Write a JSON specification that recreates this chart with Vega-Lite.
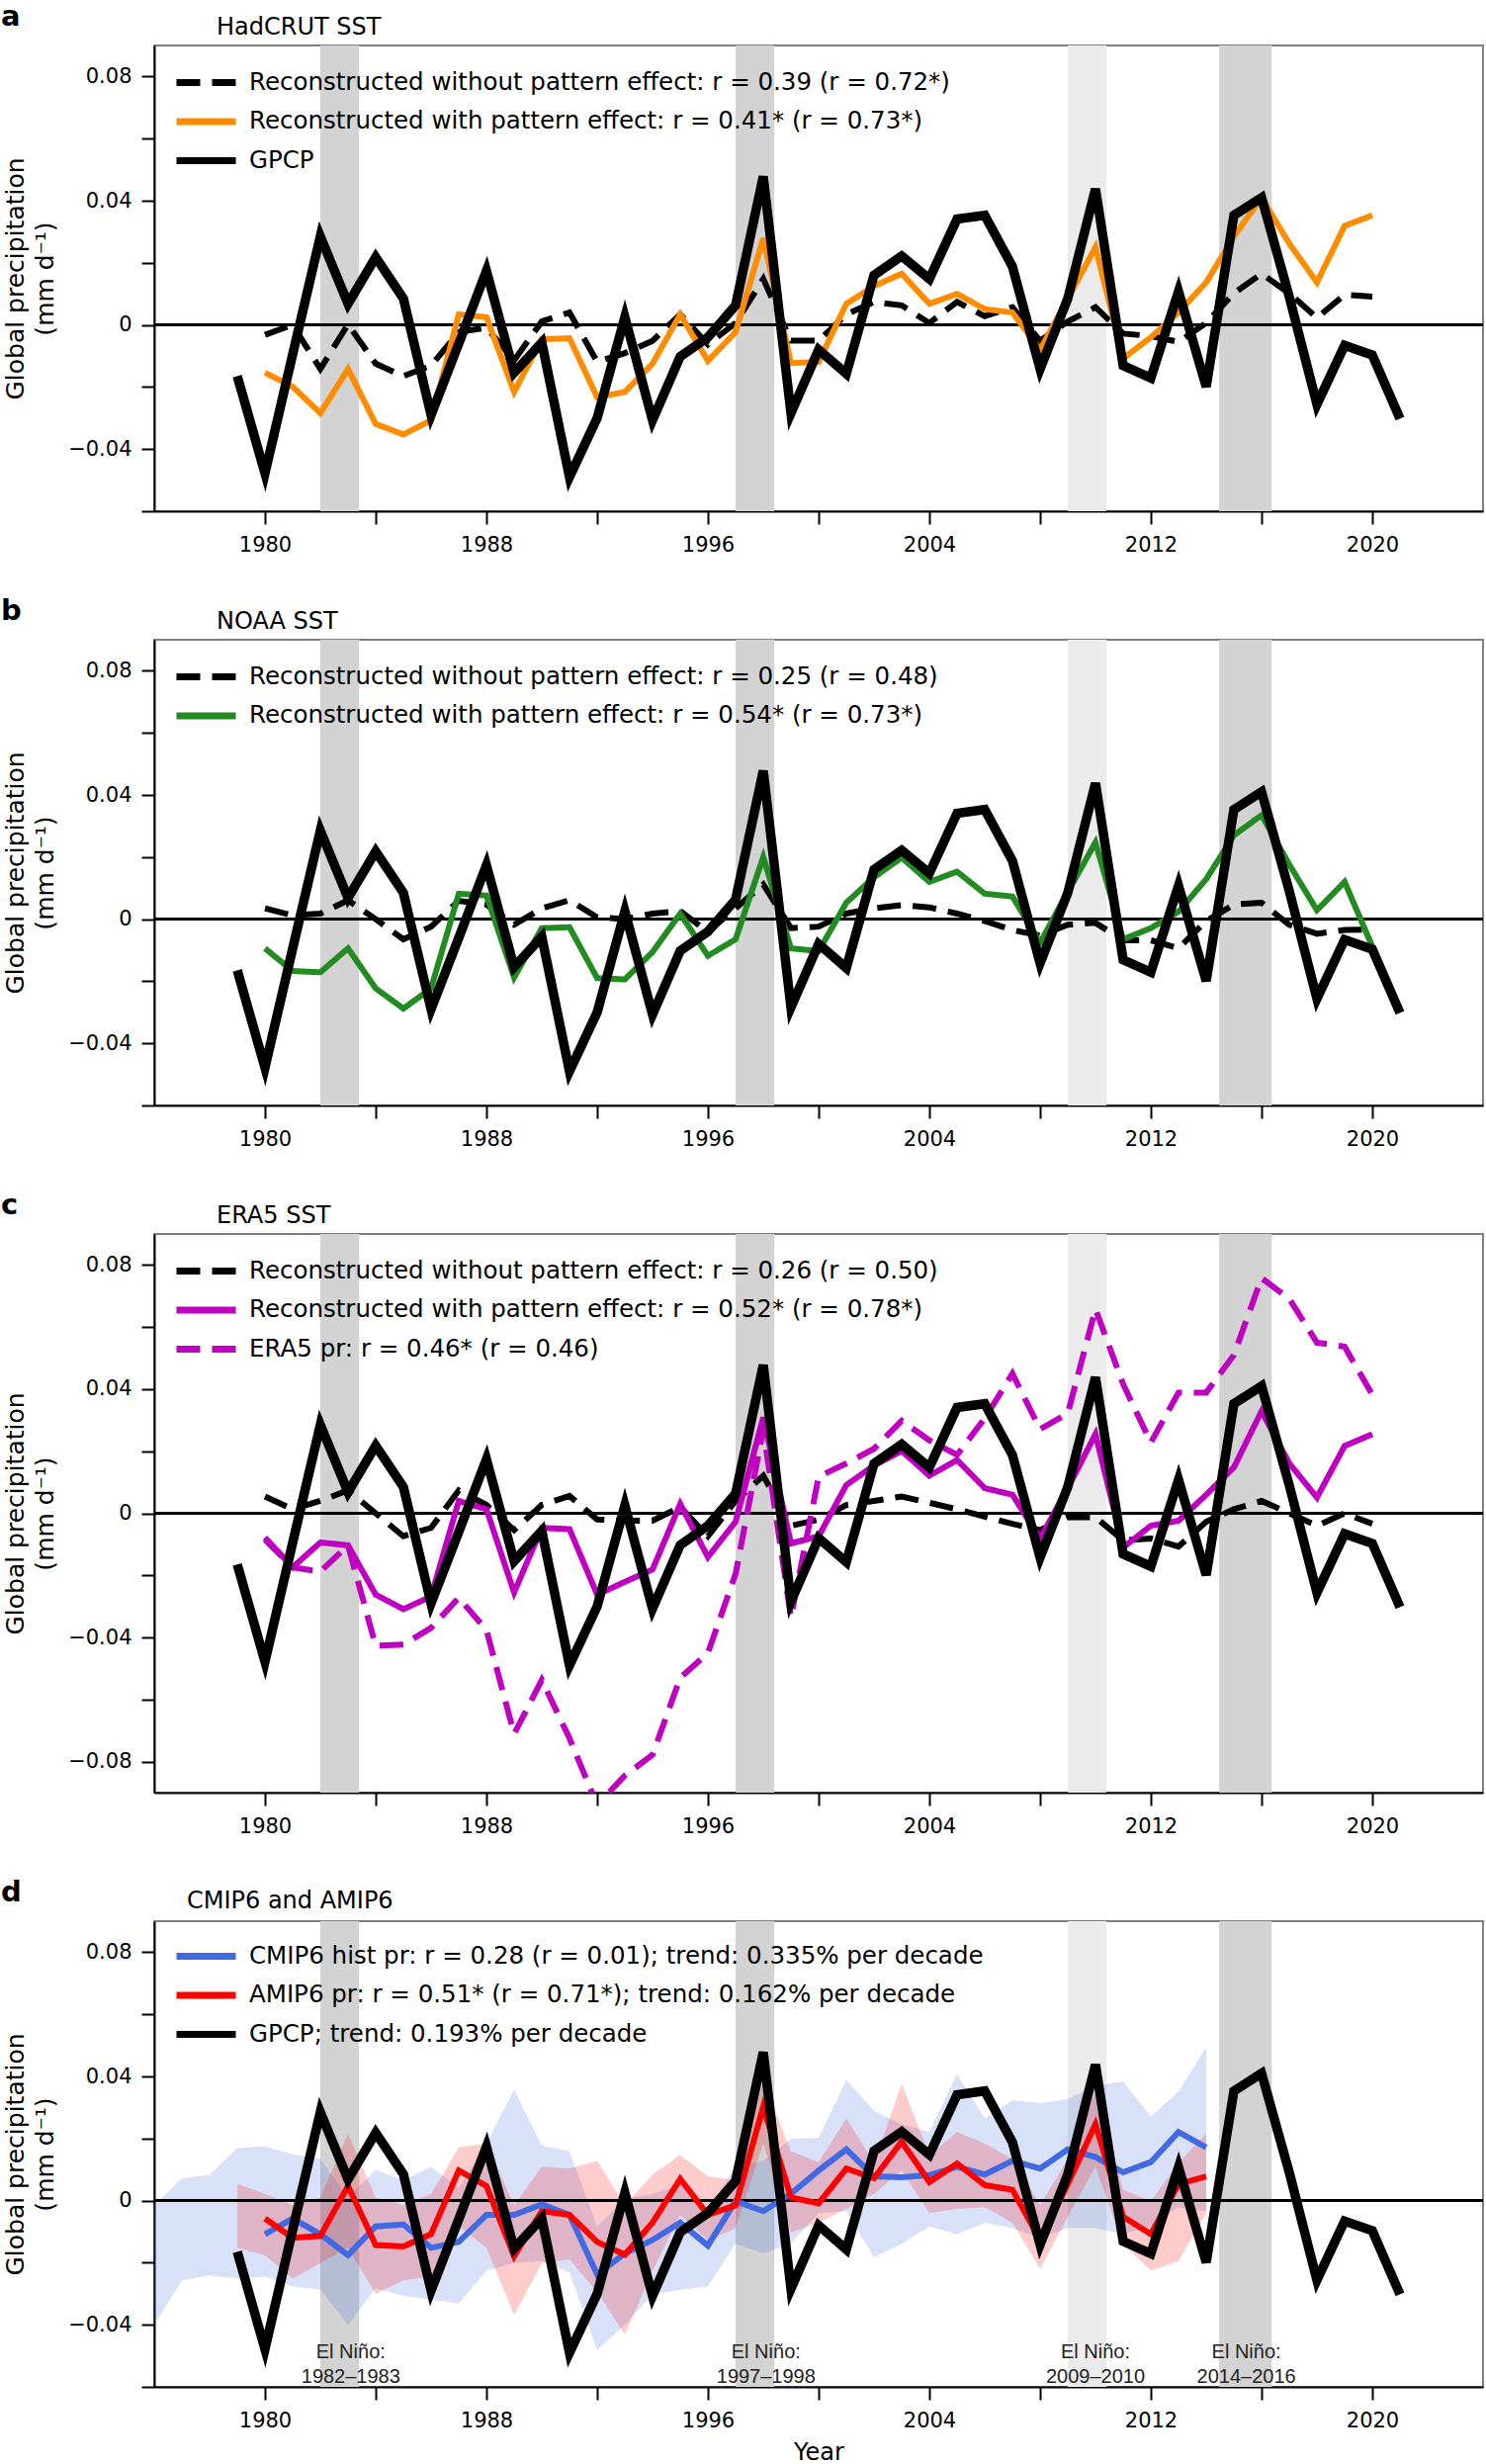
{
  "$schema": "https://vega.github.io/schema/vega-lite/v6.json",
  "padding": {"left": 0, "top": 2, "right": 0, "bottom": 0},
  "background": "white",
  "bounds": "flush",
  "spacing": 130,
  "config": {
    "view": {"stroke": "#7f7f7f", "strokeWidth": 2},
    "axis": {"domainColor": "black", "domainWidth": 2, "tickColor": "black", "tickWidth": 2, "tickSize": 13, "labelFont": "DejaVu Sans", "labelFontSize": 21, "labelColor": "black", "labelPadding": 10, "titleFont": "DejaVu Sans", "titleFontSize": 25, "titleFontWeight": "normal", "titleColor": "black", "grid": false, "labelOverlap": false},
    "legend": {"labelFont": "DejaVu Sans", "labelFontSize": 24.5, "labelColor": "black", "labelLimit": 1300, "symbolSize": 400, "labelOffset": 30, "rowPadding": 10.5, "padding": 0}
  },
  "resolve": {
    "scale": {"x": "independent", "y": "independent", "color": "independent", "strokeDash": "independent", "fill": "independent"},
    "legend": {"color": "independent", "strokeDash": "independent", "fill": "independent"}
  },
  "datasets": {
    "bands": [
      {"start": 1982.0, "end": 1983.4, "kind": "major"},
      {"start": 1997.0, "end": 1998.4, "kind": "major"},
      {"start": 2009.0, "end": 2010.4, "kind": "minor"},
      {"start": 2014.47, "end": 2016.37, "kind": "major"}
    ],
    "gpcp": [
      {"year": 1979, "value": -0.0165}, {"year": 1980, "value": -0.0478}, {"year": 1981, "value": -0.0095}, {"year": 1982, "value": 0.0285},
      {"year": 1983, "value": 0.0068}, {"year": 1984, "value": 0.0218}, {"year": 1985, "value": 0.0085}, {"year": 1986, "value": -0.029},
      {"year": 1987, "value": -0.006}, {"year": 1988, "value": 0.0174}, {"year": 1989, "value": -0.0154}, {"year": 1990, "value": -0.0057},
      {"year": 1991, "value": -0.049}, {"year": 1992, "value": -0.030}, {"year": 1993, "value": 0.0025}, {"year": 1994, "value": -0.0307},
      {"year": 1995, "value": -0.0102}, {"year": 1996, "value": -0.004}, {"year": 1997, "value": 0.0063}, {"year": 1998, "value": 0.0478},
      {"year": 1999, "value": -0.0284}, {"year": 2000, "value": -0.008}, {"year": 2001, "value": -0.0157}, {"year": 2002, "value": 0.016},
      {"year": 2003, "value": 0.0222}, {"year": 2004, "value": 0.0148}, {"year": 2005, "value": 0.0341}, {"year": 2006, "value": 0.0353},
      {"year": 2007, "value": 0.0188}, {"year": 2008, "value": -0.0142}, {"year": 2009, "value": 0.0085}, {"year": 2010, "value": 0.0438},
      {"year": 2011, "value": -0.0131}, {"year": 2012, "value": -0.0171}, {"year": 2013, "value": 0.0108}, {"year": 2014, "value": -0.0199},
      {"year": 2015, "value": 0.0353}, {"year": 2016, "value": 0.041}, {"year": 2017, "value": 0.0091}, {"year": 2018, "value": -0.0256},
      {"year": 2019, "value": -0.0066}, {"year": 2020, "value": -0.0097}, {"year": 2021, "value": -0.0302}
    ],
    "recA": [
      {"year": 1980, "wo": -0.0032, "w": -0.0154}, {"year": 1981, "wo": 0.0, "w": -0.0199}, {"year": 1982, "wo": -0.0142, "w": -0.0284},
      {"year": 1983, "wo": 0.0002, "w": -0.0142}, {"year": 1984, "wo": -0.0125, "w": -0.0319}, {"year": 1985, "wo": -0.0165, "w": -0.0353},
      {"year": 1986, "wo": -0.0131, "w": -0.0307}, {"year": 1987, "wo": -0.0023, "w": 0.0034}, {"year": 1988, "wo": -0.0009, "w": 0.0025},
      {"year": 1989, "wo": -0.0114, "w": -0.0216}, {"year": 1990, "wo": 0.0011, "w": -0.0046}, {"year": 1991, "wo": 0.004, "w": -0.0043},
      {"year": 1992, "wo": -0.0119, "w": -0.0233}, {"year": 1993, "wo": -0.0091, "w": -0.0216}, {"year": 1994, "wo": -0.0051, "w": -0.0125},
      {"year": 1995, "wo": 0.0034, "w": 0.0034}, {"year": 1996, "wo": -0.0063, "w": -0.0116}, {"year": 1997, "wo": 0.0006, "w": -0.0023},
      {"year": 1998, "wo": 0.0148, "w": 0.0279}, {"year": 1999, "wo": -0.0051, "w": -0.0123}, {"year": 2000, "wo": -0.0051, "w": -0.0119},
      {"year": 2001, "wo": 0.0034, "w": 0.0068}, {"year": 2002, "wo": 0.0074, "w": 0.0125}, {"year": 2003, "wo": 0.0063, "w": 0.0165},
      {"year": 2004, "wo": 0.0006, "w": 0.0068}, {"year": 2005, "wo": 0.0074, "w": 0.01}, {"year": 2006, "wo": 0.0028, "w": 0.0051},
      {"year": 2007, "wo": 0.0057, "w": 0.004}, {"year": 2008, "wo": -0.0051, "w": -0.008}, {"year": 2009, "wo": 0.0011, "w": 0.0085},
      {"year": 2010, "wo": 0.0057, "w": 0.025}, {"year": 2011, "wo": -0.0028, "w": -0.0108}, {"year": 2012, "wo": -0.0036, "w": -0.004},
      {"year": 2013, "wo": -0.0055, "w": 0.004}, {"year": 2014, "wo": 0.0006, "w": 0.0137}, {"year": 2015, "wo": 0.0102, "w": 0.0285},
      {"year": 2016, "wo": 0.0165, "w": 0.041}, {"year": 2017, "wo": 0.0102, "w": 0.0262}, {"year": 2018, "wo": 0.0023, "w": 0.0137},
      {"year": 2019, "wo": 0.0097, "w": 0.0319}, {"year": 2020, "wo": 0.0091, "w": 0.0353}
    ],
    "recB": [
      {"year": 1980, "wo": 0.0035, "w": -0.0094}, {"year": 1981, "wo": 0.0012, "w": -0.0167}, {"year": 1982, "wo": 0.0018, "w": -0.0171},
      {"year": 1983, "wo": 0.0061, "w": -0.0094}, {"year": 1984, "wo": 0.0, "w": -0.0223}, {"year": 1985, "wo": -0.0065, "w": -0.0288},
      {"year": 1986, "wo": -0.0024, "w": -0.0223}, {"year": 1987, "wo": 0.0059, "w": 0.0082}, {"year": 1988, "wo": 0.0047, "w": 0.0076},
      {"year": 1989, "wo": -0.0018, "w": -0.0188}, {"year": 1990, "wo": 0.0035, "w": -0.0029}, {"year": 1991, "wo": 0.0061, "w": -0.0026},
      {"year": 1992, "wo": 0.0006, "w": -0.019}, {"year": 1993, "wo": 0.0, "w": -0.0194}, {"year": 1994, "wo": 0.0018, "w": -0.0106},
      {"year": 1995, "wo": 0.0026, "w": 0.0018}, {"year": 1996, "wo": -0.0041, "w": -0.0118}, {"year": 1997, "wo": 0.0035, "w": -0.0065},
      {"year": 1998, "wo": 0.0112, "w": 0.02}, {"year": 1999, "wo": -0.0029, "w": -0.0094}, {"year": 2000, "wo": -0.0024, "w": -0.0103},
      {"year": 2001, "wo": 0.0018, "w": 0.0053}, {"year": 2002, "wo": 0.0035, "w": 0.0135}, {"year": 2003, "wo": 0.0045, "w": 0.0198},
      {"year": 2004, "wo": 0.0038, "w": 0.012}, {"year": 2005, "wo": 0.0018, "w": 0.0153}, {"year": 2006, "wo": -0.0006, "w": 0.0082},
      {"year": 2007, "wo": -0.0035, "w": 0.0073}, {"year": 2008, "wo": -0.0053, "w": -0.0076}, {"year": 2009, "wo": -0.0018, "w": 0.0088},
      {"year": 2010, "wo": -0.0012, "w": 0.0247}, {"year": 2011, "wo": -0.0068, "w": -0.0065}, {"year": 2012, "wo": -0.0068, "w": -0.0029},
      {"year": 2013, "wo": -0.0094, "w": 0.0024}, {"year": 2014, "wo": -0.0006, "w": 0.0129}, {"year": 2015, "wo": 0.0047, "w": 0.027},
      {"year": 2016, "wo": 0.0053, "w": 0.0335}, {"year": 2017, "wo": -0.0018, "w": 0.0176}, {"year": 2018, "wo": -0.0047, "w": 0.0029},
      {"year": 2019, "wo": -0.0035, "w": 0.012}, {"year": 2020, "wo": -0.0033, "w": -0.0088}
    ],
    "recC": [
      {"year": 1980, "wo": 0.0054, "w": -0.0078, "era5": -0.0085}, {"year": 1981, "wo": 0.0013, "w": -0.0174, "era5": -0.0174},
      {"year": 1982, "wo": 0.004, "w": -0.0094, "era5": -0.0188}, {"year": 1983, "wo": 0.0074, "w": -0.0103, "era5": -0.0103},
      {"year": 1984, "wo": 0.0, "w": -0.0262, "era5": -0.0427}, {"year": 1985, "wo": -0.0074, "w": -0.0309, "era5": -0.0423},
      {"year": 1986, "wo": -0.0047, "w": -0.0268, "era5": -0.0369}, {"year": 1987, "wo": 0.0074, "w": 0.004, "era5": -0.0272},
      {"year": 1988, "wo": 0.0027, "w": 0.0013, "era5": -0.0376}, {"year": 1989, "wo": -0.0054, "w": -0.0255, "era5": -0.0711},
      {"year": 1990, "wo": 0.0027, "w": -0.0047, "era5": -0.0537}, {"year": 1991, "wo": 0.0056, "w": -0.0051, "era5": -0.0725},
      {"year": 1992, "wo": -0.002, "w": -0.0262, "era5": -0.094}, {"year": 1993, "wo": -0.0024, "w": -0.0221, "era5": -0.0845},
      {"year": 1994, "wo": -0.0024, "w": -0.0181, "era5": -0.0778}, {"year": 1995, "wo": 0.002, "w": 0.003, "era5": -0.053},
      {"year": 1996, "wo": -0.0074, "w": -0.0141, "era5": -0.045}, {"year": 1997, "wo": 0.004, "w": -0.0027, "era5": -0.0195},
      {"year": 1998, "wo": 0.0121, "w": 0.0309, "era5": 0.027}, {"year": 1999, "wo": -0.004, "w": -0.0097, "era5": -0.0335},
      {"year": 2000, "wo": -0.002, "w": -0.0074, "era5": 0.0118}, {"year": 2001, "wo": 0.0027, "w": 0.0091, "era5": 0.0161},
      {"year": 2002, "wo": 0.004, "w": 0.0154, "era5": 0.0208}, {"year": 2003, "wo": 0.0054, "w": 0.0201, "era5": 0.0298},
      {"year": 2004, "wo": 0.0034, "w": 0.0121, "era5": 0.0235}, {"year": 2005, "wo": 0.0013, "w": 0.0172, "era5": 0.0188},
      {"year": 2006, "wo": -0.0011, "w": 0.0081, "era5": 0.0306}, {"year": 2007, "wo": -0.0034, "w": 0.006, "era5": 0.045},
      {"year": 2008, "wo": -0.0054, "w": -0.0081, "era5": 0.0271}, {"year": 2009, "wo": -0.0013, "w": 0.0081, "era5": 0.0322},
      {"year": 2010, "wo": -0.0013, "w": 0.0255, "era5": 0.0658}, {"year": 2011, "wo": -0.0087, "w": -0.011, "era5": 0.0416},
      {"year": 2012, "wo": -0.0081, "w": -0.004, "era5": 0.0228}, {"year": 2013, "wo": -0.0107, "w": -0.0024, "era5": 0.0389},
      {"year": 2014, "wo": -0.0027, "w": 0.006, "era5": 0.0389}, {"year": 2015, "wo": 0.0013, "w": 0.0148, "era5": 0.051},
      {"year": 2016, "wo": 0.004, "w": 0.0329, "era5": 0.0758}, {"year": 2017, "wo": 0.0, "w": 0.0161, "era5": 0.0691},
      {"year": 2018, "wo": -0.004, "w": 0.0051, "era5": 0.055}, {"year": 2019, "wo": 0.0, "w": 0.0217, "era5": 0.0537},
      {"year": 2020, "wo": -0.0034, "w": 0.0255, "era5": 0.0382}
    ],
    "models": [
      {"year": 1980, "cmip": -0.0108, "amip": -0.0058}, {"year": 1981, "cmip": -0.0058, "amip": -0.012}, {"year": 1982, "cmip": -0.0108, "amip": -0.0114},
      {"year": 1983, "cmip": -0.0176, "amip": 0.0047}, {"year": 1984, "cmip": -0.0083, "amip": -0.0143}, {"year": 1985, "cmip": -0.0077, "amip": -0.0148},
      {"year": 1986, "cmip": -0.0152, "amip": -0.0108}, {"year": 1987, "cmip": -0.0133, "amip": 0.0097}, {"year": 1988, "cmip": -0.0046, "amip": 0.0047},
      {"year": 1989, "cmip": -0.0046, "amip": -0.0179}, {"year": 1990, "cmip": -0.0012, "amip": -0.0034}, {"year": 1991, "cmip": -0.0046, "amip": -0.0046},
      {"year": 1992, "cmip": -0.0238, "amip": -0.0133}, {"year": 1993, "cmip": -0.017, "amip": -0.0174}, {"year": 1994, "cmip": -0.0127, "amip": -0.0071},
      {"year": 1995, "cmip": -0.0071, "amip": 0.007}, {"year": 1996, "cmip": -0.0145, "amip": -0.0046}, {"year": 1997, "cmip": -0.0002, "amip": -0.0015},
      {"year": 1998, "cmip": -0.0034, "amip": 0.0302}, {"year": 1999, "cmip": 0.0022, "amip": 0.001}, {"year": 2000, "cmip": 0.0097, "amip": -0.0009},
      {"year": 2001, "cmip": 0.0165, "amip": 0.0103}, {"year": 2002, "cmip": 0.0078, "amip": 0.0072}, {"year": 2003, "cmip": 0.0075, "amip": 0.019},
      {"year": 2004, "cmip": 0.0082, "amip": 0.006}, {"year": 2005, "cmip": 0.0109, "amip": 0.0119}, {"year": 2006, "cmip": 0.0084, "amip": 0.005},
      {"year": 2007, "cmip": 0.0128, "amip": 0.0035}, {"year": 2008, "cmip": 0.0103, "amip": -0.0127}, {"year": 2009, "cmip": 0.0165, "amip": 0.0053},
      {"year": 2010, "cmip": 0.014, "amip": 0.0246}, {"year": 2011, "cmip": 0.0091, "amip": -0.0052}, {"year": 2012, "cmip": 0.0124, "amip": -0.0108},
      {"year": 2013, "cmip": 0.0221, "amip": 0.0053}, {"year": 2014, "cmip": 0.0171, "amip": 0.0078}
    ],
    "cmipBand": [
      {"year": 1976, "lo": -0.040, "hi": -0.0015}, {"year": 1977, "lo": -0.0257, "hi": 0.0072}, {"year": 1978, "lo": -0.0241, "hi": 0.0082},
      {"year": 1979, "lo": -0.0251, "hi": 0.0169}, {"year": 1980, "lo": -0.0245, "hi": 0.0175}, {"year": 1981, "lo": -0.0276, "hi": 0.0149},
      {"year": 1982, "lo": -0.0286, "hi": 0.0134}, {"year": 1983, "lo": -0.040, "hi": 0.001}, {"year": 1984, "lo": -0.0282, "hi": 0.0099},
      {"year": 1985, "lo": -0.0307, "hi": 0.0066}, {"year": 1986, "lo": -0.0319, "hi": 0.0109}, {"year": 1987, "lo": -0.0332, "hi": 0.0041},
      {"year": 1988, "lo": -0.0226, "hi": 0.0184}, {"year": 1989, "lo": -0.0201, "hi": 0.0358}, {"year": 1990, "lo": -0.0195, "hi": 0.0178},
      {"year": 1991, "lo": -0.0232, "hi": 0.0159}, {"year": 1992, "lo": -0.0481, "hi": -0.0083}, {"year": 1993, "lo": -0.040, "hi": 0.0004},
      {"year": 1994, "lo": -0.0301, "hi": 0.0022}, {"year": 1995, "lo": -0.0288, "hi": 0.0047}, {"year": 1996, "lo": -0.0276, "hi": -0.0027},
      {"year": 1997, "lo": -0.0139, "hi": 0.0109}, {"year": 1998, "lo": -0.017, "hi": 0.0128}, {"year": 1999, "lo": -0.0139, "hi": 0.0199},
      {"year": 2000, "lo": -0.004, "hi": 0.0202}, {"year": 2001, "lo": -0.0034, "hi": 0.0389}, {"year": 2002, "lo": -0.0183, "hi": 0.0289},
      {"year": 2003, "lo": -0.0139, "hi": 0.0246}, {"year": 2004, "lo": -0.0083, "hi": 0.0221}, {"year": 2005, "lo": -0.0108, "hi": 0.0407},
      {"year": 2006, "lo": -0.0071, "hi": 0.0265}, {"year": 2007, "lo": -0.0089, "hi": 0.0323}, {"year": 2008, "lo": -0.012, "hi": 0.0314},
      {"year": 2009, "lo": -0.0089, "hi": 0.0327}, {"year": 2010, "lo": -0.0089, "hi": 0.037}, {"year": 2011, "lo": -0.0108, "hi": 0.0383},
      {"year": 2012, "lo": -0.0083, "hi": 0.0271}, {"year": 2013, "lo": -0.0021, "hi": 0.0351}, {"year": 2014, "lo": -0.0034, "hi": 0.0494}
    ],
    "amipBand": [
      {"year": 1979, "lo": -0.0152, "hi": 0.0053}, {"year": 1980, "lo": -0.0176, "hi": 0.0022}, {"year": 1981, "lo": -0.0251, "hi": -0.0015},
      {"year": 1982, "lo": -0.0201, "hi": 0.001}, {"year": 1983, "lo": -0.0152, "hi": 0.0215}, {"year": 1984, "lo": -0.0301, "hi": 0.001},
      {"year": 1985, "lo": -0.0257, "hi": -0.0015}, {"year": 1986, "lo": -0.0245, "hi": 0.0022}, {"year": 1987, "lo": -0.0083, "hi": 0.0171},
      {"year": 1988, "lo": -0.0152, "hi": 0.0184}, {"year": 1989, "lo": -0.0369, "hi": -0.0015}, {"year": 1990, "lo": -0.0201, "hi": 0.0109},
      {"year": 1991, "lo": -0.0189, "hi": 0.0103}, {"year": 1992, "lo": -0.0294, "hi": 0.0128}, {"year": 1993, "lo": -0.0431, "hi": -0.0015},
      {"year": 1994, "lo": -0.0226, "hi": 0.0084}, {"year": 1995, "lo": -0.0046, "hi": 0.0147}, {"year": 1996, "lo": -0.0127, "hi": 0.0078},
      {"year": 1997, "lo": -0.0089, "hi": 0.0066}, {"year": 1998, "lo": 0.0184, "hi": 0.0383}, {"year": 1999, "lo": -0.0102, "hi": 0.0159},
      {"year": 2000, "lo": -0.0071, "hi": 0.0124}, {"year": 2001, "lo": -0.0027, "hi": 0.0265}, {"year": 2002, "lo": 0.0022, "hi": 0.0122},
      {"year": 2003, "lo": 0.0097, "hi": 0.0376}, {"year": 2004, "lo": -0.004, "hi": 0.0147}, {"year": 2005, "lo": -0.0027, "hi": 0.0221},
      {"year": 2006, "lo": -0.0021, "hi": 0.0184}, {"year": 2007, "lo": -0.0071, "hi": 0.0134}, {"year": 2008, "lo": -0.022, "hi": -0.0015},
      {"year": 2009, "lo": -0.0052, "hi": 0.0134}, {"year": 2010, "lo": 0.0109, "hi": 0.0351}, {"year": 2011, "lo": -0.0139, "hi": 0.0035},
      {"year": 2012, "lo": -0.0226, "hi": -0.0002}, {"year": 2013, "lo": -0.0195, "hi": 0.0122}, {"year": 2014, "lo": -0.004, "hi": 0.0215}
    ],
    "elnino": [
      {"x": 1983.1, "label": "El Niño:\n1982–1983"},
      {"x": 1998.1, "label": "El Niño:\n1997–1998"},
      {"x": 2010.0, "label": "El Niño:\n2009–2010"},
      {"x": 2015.45, "label": "El Niño:\n2014–2016"}
    ]
  },
  "vconcat": [
    {
      "width": 1344, "height": 471,
      "layer": [
        {"data": {"name": "bands"}, "mark": {"type": "rect"},
         "encoding": {
           "x": {"field": "start", "type": "quantitative", "scale": {"domain": [1976, 2024], "nice": false, "zero": false},
                 "axis": {"values": [1980, 1984, 1988, 1992, 1996, 2000, 2004, 2008, 2012, 2016, 2020], "format": "d", "labelExpr": "datum.value % 8 == 4 ? datum.label : ''", "title": null}},
           "x2": {"field": "end"},
           "fill": {"field": "kind", "type": "nominal", "scale": {"domain": ["major", "minor"], "range": ["#d3d3d3", "#ebebeb"]}, "legend": null}}},
        {"data": {"values": [{}]}, "mark": {"type": "rule", "color": "black", "strokeWidth": 3},
         "encoding": {"y": {"datum": 0, "type": "quantitative", "scale": {"domain": [-0.06, 0.09], "nice": false, "zero": false},
           "axis": {"values": [-0.06, -0.04, -0.02, 0, 0.02, 0.04, 0.06, 0.08], "format": ".2f", "labelExpr": "round(datum.value*100) % 4 == 0 ? (datum.value == 0 ? '0' : datum.label) : ''", "title": ["Global precipitation", "(mm d⁻¹)"], "titleLineHeight": 30, "titlePadding": 10}}}},
        {"data": {"name": "recA"}, "mark": {"type": "line", "strokeWidth": 6},
         "encoding": {
           "x": {"field": "year", "type": "quantitative"},
           "y": {"field": "wo", "type": "quantitative"},
           "color": {"datum": "Reconstructed without pattern effect: r = 0.39 (r = 0.72*)", "type": "nominal",
             "scale": {"domain": ["Reconstructed without pattern effect: r = 0.39 (r = 0.72*)", "Reconstructed with pattern effect: r = 0.41* (r = 0.73*)", "GPCP"], "range": ["black", "#ff8c00", "black"]},
             "legend": {"orient": "none", "legendX": 39, "legendY": 24, "title": null, "symbolType": "M-3,0H3", "symbolStrokeWidth": 7}},
           "strokeDash": {"datum": "Reconstructed without pattern effect: r = 0.39 (r = 0.72*)", "type": "nominal",
             "scale": {"domain": ["Reconstructed without pattern effect: r = 0.39 (r = 0.72*)", "Reconstructed with pattern effect: r = 0.41* (r = 0.73*)", "GPCP"], "range": [[24, 12], [1, 0], [1, 0]]},
             "legend": {"orient": "none", "legendX": 39, "legendY": 24, "title": null, "symbolType": "M-3,0H3", "symbolStrokeWidth": 7}}}},
        {"data": {"name": "recA"}, "mark": {"type": "line", "strokeWidth": 6},
         "encoding": {
           "x": {"field": "year", "type": "quantitative"},
           "y": {"field": "w", "type": "quantitative"},
           "color": {"datum": "Reconstructed with pattern effect: r = 0.41* (r = 0.73*)", "type": "nominal"},
           "strokeDash": {"datum": "Reconstructed with pattern effect: r = 0.41* (r = 0.73*)", "type": "nominal"}}},
        {"data": {"name": "gpcp"}, "mark": {"type": "line", "strokeWidth": 9.5},
         "encoding": {
           "x": {"field": "year", "type": "quantitative"},
           "y": {"field": "value", "type": "quantitative"},
           "color": {"datum": "GPCP", "type": "nominal"},
           "strokeDash": {"datum": "GPCP", "type": "nominal"}}},
        {"data": {"values": [{"letter": "a", "name": "HadCRUT SST"}]}, "mark": {"type": "text", "font": "DejaVu Sans", "fontSize": 29, "fontWeight": "bold", "align": "left", "baseline": "alphabetic", "dx": -155, "dy": -20, "color": "black"},
         "encoding": {"x": {"datum": 1976, "type": "quantitative"}, "y": {"datum": 0.09, "type": "quantitative"}, "text": {"field": "letter"}}},
        {"data": {"values": [{"letter": "a", "name": "HadCRUT SST"}]}, "mark": {"type": "text", "font": "DejaVu Sans", "fontSize": 24, "align": "left", "baseline": "alphabetic", "dx": 63, "dy": -11, "color": "black"},
         "encoding": {"x": {"datum": 1976, "type": "quantitative"}, "y": {"datum": 0.09, "type": "quantitative"}, "text": {"field": "name"}}}
      ]
    },
    {
      "width": 1344, "height": 471,
      "layer": [
        {"data": {"name": "bands"}, "mark": {"type": "rect"},
         "encoding": {
           "x": {"field": "start", "type": "quantitative", "scale": {"domain": [1976, 2024], "nice": false, "zero": false},
                 "axis": {"values": [1980, 1984, 1988, 1992, 1996, 2000, 2004, 2008, 2012, 2016, 2020], "format": "d", "labelExpr": "datum.value % 8 == 4 ? datum.label : ''", "title": null}},
           "x2": {"field": "end"},
           "fill": {"field": "kind", "type": "nominal", "scale": {"domain": ["major", "minor"], "range": ["#d3d3d3", "#ebebeb"]}, "legend": null}}},
        {"data": {"values": [{}]}, "mark": {"type": "rule", "color": "black", "strokeWidth": 3},
         "encoding": {"y": {"datum": 0, "type": "quantitative", "scale": {"domain": [-0.06, 0.09], "nice": false, "zero": false},
           "axis": {"values": [-0.06, -0.04, -0.02, 0, 0.02, 0.04, 0.06, 0.08], "format": ".2f", "labelExpr": "round(datum.value*100) % 4 == 0 ? (datum.value == 0 ? '0' : datum.label) : ''", "title": ["Global precipitation", "(mm d⁻¹)"], "titleLineHeight": 30, "titlePadding": 10}}}},
        {"data": {"name": "recB"}, "mark": {"type": "line", "strokeWidth": 6},
         "encoding": {
           "x": {"field": "year", "type": "quantitative"},
           "y": {"field": "wo", "type": "quantitative"},
           "color": {"datum": "Reconstructed without pattern effect: r = 0.25 (r = 0.48)", "type": "nominal",
             "scale": {"domain": ["Reconstructed without pattern effect: r = 0.25 (r = 0.48)", "Reconstructed with pattern effect: r = 0.54* (r = 0.73*)"], "range": ["black", "#228b22"]},
             "legend": {"orient": "none", "legendX": 39, "legendY": 24, "title": null, "symbolType": "M-3,0H3", "symbolStrokeWidth": 7}},
           "strokeDash": {"datum": "Reconstructed without pattern effect: r = 0.25 (r = 0.48)", "type": "nominal",
             "scale": {"domain": ["Reconstructed without pattern effect: r = 0.25 (r = 0.48)", "Reconstructed with pattern effect: r = 0.54* (r = 0.73*)"], "range": [[24, 12], [1, 0]]},
             "legend": {"orient": "none", "legendX": 39, "legendY": 24, "title": null, "symbolType": "M-3,0H3", "symbolStrokeWidth": 7}}}},
        {"data": {"name": "recB"}, "mark": {"type": "line", "strokeWidth": 6},
         "encoding": {
           "x": {"field": "year", "type": "quantitative"},
           "y": {"field": "w", "type": "quantitative"},
           "color": {"datum": "Reconstructed with pattern effect: r = 0.54* (r = 0.73*)", "type": "nominal"},
           "strokeDash": {"datum": "Reconstructed with pattern effect: r = 0.54* (r = 0.73*)", "type": "nominal"}}},
        {"data": {"name": "gpcp"}, "mark": {"type": "line", "color": "black", "strokeWidth": 9.5},
         "encoding": {
           "x": {"field": "year", "type": "quantitative"},
           "y": {"field": "value", "type": "quantitative"}}},
        {"data": {"values": [{"letter": "b", "name": "NOAA SST"}]}, "mark": {"type": "text", "font": "DejaVu Sans", "fontSize": 29, "fontWeight": "bold", "align": "left", "baseline": "alphabetic", "dx": -155, "dy": -20, "color": "black"},
         "encoding": {"x": {"datum": 1976, "type": "quantitative"}, "y": {"datum": 0.09, "type": "quantitative"}, "text": {"field": "letter"}}},
        {"data": {"values": [{"letter": "b", "name": "NOAA SST"}]}, "mark": {"type": "text", "font": "DejaVu Sans", "fontSize": 24, "align": "left", "baseline": "alphabetic", "dx": 63, "dy": -11, "color": "black"},
         "encoding": {"x": {"datum": 1976, "type": "quantitative"}, "y": {"datum": 0.09, "type": "quantitative"}, "text": {"field": "name"}}}
      ]
    },
    {
      "width": 1344, "height": 565,
      "layer": [
        {"data": {"name": "bands"}, "mark": {"type": "rect"},
         "encoding": {
           "x": {"field": "start", "type": "quantitative", "scale": {"domain": [1976, 2024], "nice": false, "zero": false},
                 "axis": {"values": [1980, 1984, 1988, 1992, 1996, 2000, 2004, 2008, 2012, 2016, 2020], "format": "d", "labelExpr": "datum.value % 8 == 4 ? datum.label : ''", "title": null}},
           "x2": {"field": "end"},
           "fill": {"field": "kind", "type": "nominal", "scale": {"domain": ["major", "minor"], "range": ["#d3d3d3", "#ebebeb"]}, "legend": null}}},
        {"data": {"values": [{}]}, "mark": {"type": "rule", "color": "black", "strokeWidth": 3},
         "encoding": {"y": {"datum": 0, "type": "quantitative", "scale": {"domain": [-0.09, 0.09], "nice": false, "zero": false},
           "axis": {"values": [-0.08, -0.06, -0.04, -0.02, 0, 0.02, 0.04, 0.06, 0.08], "format": ".2f", "labelExpr": "round(datum.value*100) % 4 == 0 ? (datum.value == 0 ? '0' : datum.label) : ''", "title": ["Global precipitation", "(mm d⁻¹)"], "titleLineHeight": 30, "titlePadding": 10}}}},
        {"data": {"name": "recC"}, "mark": {"type": "line", "clip": true, "strokeWidth": 6},
         "encoding": {
           "x": {"field": "year", "type": "quantitative"},
           "y": {"field": "wo", "type": "quantitative"},
           "color": {"datum": "Reconstructed without pattern effect: r = 0.26 (r = 0.50)", "type": "nominal",
             "scale": {"domain": ["Reconstructed without pattern effect: r = 0.26 (r = 0.50)", "Reconstructed with pattern effect: r = 0.52* (r = 0.78*)", "ERA5 pr: r = 0.46* (r = 0.46)"], "range": ["black", "#c000c0", "#c000c0"]},
             "legend": {"orient": "none", "legendX": 39, "legendY": 24, "title": null, "symbolType": "M-3,0H3", "symbolStrokeWidth": 7}},
           "strokeDash": {"datum": "Reconstructed without pattern effect: r = 0.26 (r = 0.50)", "type": "nominal",
             "scale": {"domain": ["Reconstructed without pattern effect: r = 0.26 (r = 0.50)", "Reconstructed with pattern effect: r = 0.52* (r = 0.78*)", "ERA5 pr: r = 0.46* (r = 0.46)"], "range": [[24, 12], [1, 0], [24, 12]]},
             "legend": {"orient": "none", "legendX": 39, "legendY": 24, "title": null, "symbolType": "M-3,0H3", "symbolStrokeWidth": 7}}}},
        {"data": {"name": "recC"}, "mark": {"type": "line", "clip": true, "strokeWidth": 6},
         "encoding": {
           "x": {"field": "year", "type": "quantitative"},
           "y": {"field": "w", "type": "quantitative"},
           "color": {"datum": "Reconstructed with pattern effect: r = 0.52* (r = 0.78*)", "type": "nominal"},
           "strokeDash": {"datum": "Reconstructed with pattern effect: r = 0.52* (r = 0.78*)", "type": "nominal"}}},
        {"data": {"name": "recC"}, "mark": {"type": "line", "clip": true, "strokeWidth": 6},
         "encoding": {
           "x": {"field": "year", "type": "quantitative"},
           "y": {"field": "era5", "type": "quantitative"},
           "color": {"datum": "ERA5 pr: r = 0.46* (r = 0.46)", "type": "nominal"},
           "strokeDash": {"datum": "ERA5 pr: r = 0.46* (r = 0.46)", "type": "nominal"}}},
        {"data": {"name": "gpcp"}, "mark": {"type": "line", "color": "black", "strokeWidth": 9.5},
         "encoding": {
           "x": {"field": "year", "type": "quantitative"},
           "y": {"field": "value", "type": "quantitative"}}},
        {"data": {"values": [{"letter": "c", "name": "ERA5 SST"}]}, "mark": {"type": "text", "font": "DejaVu Sans", "fontSize": 29, "fontWeight": "bold", "align": "left", "baseline": "alphabetic", "dx": -155, "dy": -20, "color": "black"},
         "encoding": {"x": {"datum": 1976, "type": "quantitative"}, "y": {"datum": 0.09, "type": "quantitative"}, "text": {"field": "letter"}}},
        {"data": {"values": [{"letter": "c", "name": "ERA5 SST"}]}, "mark": {"type": "text", "font": "DejaVu Sans", "fontSize": 24, "align": "left", "baseline": "alphabetic", "dx": 63, "dy": -11, "color": "black"},
         "encoding": {"x": {"datum": 1976, "type": "quantitative"}, "y": {"datum": 0.09, "type": "quantitative"}, "text": {"field": "name"}}}
      ]
    },
    {
      "width": 1344, "height": 471,
      "layer": [
        {"data": {"name": "bands"}, "mark": {"type": "rect"},
         "encoding": {
           "x": {"field": "start", "type": "quantitative", "scale": {"domain": [1976, 2024], "nice": false, "zero": false},
                 "axis": {"values": [1980, 1984, 1988, 1992, 1996, 2000, 2004, 2008, 2012, 2016, 2020], "format": "d", "labelExpr": "datum.value % 8 == 4 ? datum.label : ''", "title": "Year", "titleFontSize": 24, "titlePadding": 10}},
           "x2": {"field": "end"},
           "fill": {"field": "kind", "type": "nominal", "scale": {"domain": ["major", "minor"], "range": ["#d3d3d3", "#ebebeb"]}, "legend": null}}},
        {"data": {"name": "cmipBand"}, "mark": {"type": "area", "color": "#4169e1", "opacity": 0.2},
         "encoding": {
           "x": {"field": "year", "type": "quantitative"},
           "y": {"field": "lo", "type": "quantitative"},
           "y2": {"field": "hi"}}},
        {"data": {"name": "amipBand"}, "mark": {"type": "area", "color": "#ff0000", "opacity": 0.2},
         "encoding": {
           "x": {"field": "year", "type": "quantitative"},
           "y": {"field": "lo", "type": "quantitative"},
           "y2": {"field": "hi"}}},
        {"data": {"values": [{}]}, "mark": {"type": "rule", "color": "black", "strokeWidth": 3},
         "encoding": {"y": {"datum": 0, "type": "quantitative", "scale": {"domain": [-0.06, 0.09], "nice": false, "zero": false},
           "axis": {"values": [-0.06, -0.04, -0.02, 0, 0.02, 0.04, 0.06, 0.08], "format": ".2f", "labelExpr": "round(datum.value*100) % 4 == 0 ? (datum.value == 0 ? '0' : datum.label) : ''", "title": ["Global precipitation", "(mm d⁻¹)"], "titleLineHeight": 30, "titlePadding": 10}}}},
        {"data": {"name": "models"}, "mark": {"type": "line", "strokeWidth": 6},
         "encoding": {
           "x": {"field": "year", "type": "quantitative"},
           "y": {"field": "cmip", "type": "quantitative"},
           "color": {"datum": "CMIP6 hist pr: r = 0.28 (r = 0.01); trend: 0.335% per decade", "type": "nominal",
             "scale": {"domain": ["CMIP6 hist pr: r = 0.28 (r = 0.01); trend: 0.335% per decade", "AMIP6 pr: r = 0.51* (r = 0.71*); trend: 0.162% per decade", "GPCP; trend: 0.193% per decade"], "range": ["#4169e1", "#ff0000", "black"]},
             "legend": {"orient": "none", "legendX": 39, "legendY": 22, "title": null, "symbolType": "M-3,0H3", "symbolStrokeWidth": 7}}}},
        {"data": {"name": "models"}, "mark": {"type": "line", "strokeWidth": 6},
         "encoding": {
           "x": {"field": "year", "type": "quantitative"},
           "y": {"field": "amip", "type": "quantitative"},
           "color": {"datum": "AMIP6 pr: r = 0.51* (r = 0.71*); trend: 0.162% per decade", "type": "nominal"}}},
        {"data": {"name": "gpcp"}, "mark": {"type": "line", "strokeWidth": 9.5},
         "encoding": {
           "x": {"field": "year", "type": "quantitative"},
           "y": {"field": "value", "type": "quantitative"},
           "color": {"datum": "GPCP; trend: 0.193% per decade", "type": "nominal"}}},
        {"data": {"name": "elnino"}, "mark": {"type": "text", "font": "Liberation Sans", "fontSize": 20, "lineBreak": "\n", "lineHeight": 24.5, "baseline": "middle", "align": "center", "color": "#222222"},
         "encoding": {"x": {"field": "x", "type": "quantitative"}, "y": {"datum": -0.0489, "type": "quantitative"}, "text": {"field": "label"}}},
        {"data": {"values": [{"letter": "d", "name": "CMIP6 and AMIP6"}]}, "mark": {"type": "text", "font": "DejaVu Sans", "fontSize": 29, "fontWeight": "bold", "align": "left", "baseline": "alphabetic", "dx": -155, "dy": -20, "color": "black"},
         "encoding": {"x": {"datum": 1976, "type": "quantitative"}, "y": {"datum": 0.09, "type": "quantitative"}, "text": {"field": "letter"}}},
        {"data": {"values": [{"letter": "d", "name": "CMIP6 and AMIP6"}]}, "mark": {"type": "text", "font": "DejaVu Sans", "fontSize": 24, "align": "left", "baseline": "alphabetic", "dx": 33, "dy": -13, "color": "black"},
         "encoding": {"x": {"datum": 1976, "type": "quantitative"}, "y": {"datum": 0.09, "type": "quantitative"}, "text": {"field": "name"}}}
      ]
    }
  ]
}
